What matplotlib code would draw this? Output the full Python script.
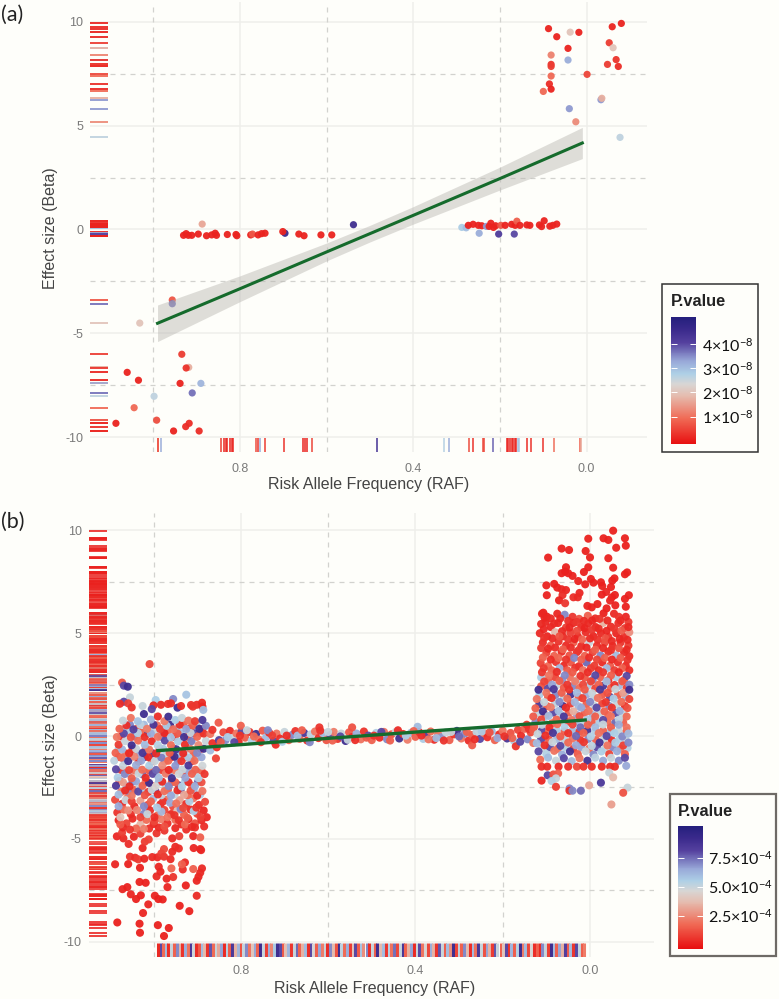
import matplotlib
matplotlib.use('Agg')
import matplotlib.pyplot as plt
from matplotlib.colors import LinearSegmentedColormap, Normalize
from matplotlib.cm import ScalarMappable
from matplotlib.patches import Rectangle

plt.rcParams['font.family'] = ['Liberation Sans', 'DejaVu Sans']
plt.rcParams['mathtext.default'] = 'regular'

W, H = 779, 999
BG = '#FEFEFA'

# panel (a): (raf, beta, p in 1e-8)
a_low_left = [(.956,-3.39,.7),(.956,-3.57,3.7),(1.031,-4.5,2),(.934,-6,.4),(1.06,-6.87,.1),(1.034,-7.25,.1),
              (.918,-6.63,1.7),(.924,-6.66,.3),(.938,-7.4,.1),(.89,-7.4,3.1),(.91,-7.86,3.7),(.998,-8.02,2.6),
              (1.044,-8.57,.9),(.992,-9.17,.6),(1.086,-9.32,.1),(.917,-9.32,.2),(.925,-9.48,.2),(.953,-9.69,.1),(.894,-9.69,.2)]
a_mid_left = [(.93,-.28,.1),(.924,-.2,.1),(.919,-.28,.1),(.911,-.28,.1),(.896,-.22,.1),(.877,-.3,.1),(.865,-.26,.1),
              (.857,-.18,.1),(.854,-.28,.1),(.829,-.24,.1),(.809,-.24,.1),(.807,-.3,.1),(.775,-.26,.1),(.771,-.22,.7),
              (.758,-.26,.1),(.75,-.2,.1),(.742,-.18,.1),(.696,-.18,4.6),(.701,-.1,.1),(.664,-.22,.1),(.652,-.3,.1),
              (.613,-.26,.1),(.588,-.26,.1),(.887,.26,1.6),(.538,.23,4.5)]
a_mid_right = [(.288,.1,2.8),(.278,.08,3),(.273,.2,.1),(.262,.25,.1),(.25,.2,.1),(.242,.18,.1),(.231,.15,3.4),(.225,.15,.1),
               (.221,.3,.1),(.215,.1,.1),(.21,.18,.1),(.198,.2,.7),(.188,.2,.1),(.173,.25,.1),(.165,.2,.1),(.161,.4,.8),
               (.154,.2,.1),(.138,.22,.1),(.131,.2,.1),(.109,.22,.1),(.104,.14,.1),(.098,.42,.1),(.085,.16,.1),(.078,.2,.1),
               (.069,.26,.1),(.248,-.18,3.2),(.203,-.22,4.2),(.167,-.22,4)]
a_top_right = [(.088,9.66,.1),(.069,9.27,.1),(.038,9.49,2),(.018,9.48,.1),(.043,8.71,.1),(.082,8.39,1.2),(.043,8.15,3.2),
               (.082,7.94,.3),(.082,7.84,.4),(.082,7.38,.9),(-.001,7.46,.5),(.086,7,.2),(.082,6.75,.1),(.1,6.64,.9),
               (.04,5.81,3.4),(.025,5.18,1.3),(-.033,6.24,3.4),(-.035,6.31,1.7),(-.077,4.43,2.6),(-.08,9.91,.1),
               (-.059,9.75,.1),(-.052,8.98,.4),(-.061,8.74,2),(-.068,8.17,.3),(-.048,7.94,.4),(-.073,7.84,.2)]
# rug along RAF axis: (raf, p)
a_rug_raf = [(.99,.1),(.988,.8),(.982,3.2),(.844,.4),(.837,.1),(.832,.1),(.83,.1),(.823,.1),(.819,.1),(.815,.1),(.763,.6),
             (.758,.3),(.754,3.2),(.742,.4),(.698,.3),(.654,.1),(.65,.1),(.646,.1),(.634,.5),(.484,4.4),(.328,2.7),(.318,3.2),
             (.272,.6),(.262,.3),(.238,.6),(.236,.5),(.217,3.8),(.184,.1),(.181,.1),(.177,.1),(.173,.1),(.169,.1),(.165,.1),
             (.163,.1),(.159,3),(.155,2.9),(.138,.2),(.128,.3),(.1,.3),(.076,1),(.015,.8),(.012,1.6)]
a_fit_raf = [.99, .8, .6, .5, .4, .2, .01]
a_fit_beta = [-4.51, -2.85, -1.08, -.2, .68, 2.45, 4.16]
a_fit_err = [.88, .62, .43, .4, .42, .55, .75]

# panel (b): (raf, beta, p in 1e-4)
b_left_tail = [(1.083,-9.07,.1),(1.032,-9.13,.1),(.99,-9.2,.1),(.965,-9.34,.1),(1.031,-9.57,.1),(.976,-9.73,.1),(1.024,-8.61,.2),
    (.918,-8.52,.1),(.94,-8.26,.1),(1.012,-8.19,.2),(1.052,-7.7,.2),(1.04,-7.93,.1),(1.029,-7.75,.1),(.997,-7.77,.2),(.989,-7.93,.1),
    (.979,-7.95,.1),(.901,-7.77,.3),(.968,-7.35,.2),(.926,-7.27,.1),(1.071,-7.45,.2),(1.06,-7.35,.1),(1.032,-7.1,.1),(1.018,-7.14,.1),
    (1.088,-6.24,.2),(1.058,-6.23,.1),(1.031,-6.41,.1),(.993,-6.83,.3),(.97,-6.94,.2),(.955,-6.86,.5),(.901,-7.04,.2),(.897,-6.85,.2),
    (.893,-6.65,.3),(.889,-6.44,.3),(.909,-6.47,1.5),(.933,-6.49,.4),(.928,-6.15,.3),(.935,-6.24,1.6),(.959,-6.44,1.7),(.984,-6.6,.2),
    (.988,-6.36,.2),(.961,-5.99,.3),(1.054,-5.87,.5),(1.042,-5.92,.4),(1.035,-6,.7),(1.021,-5.97,.2),(1.003,-5.89,.3),(.991,-5.9,.3),
    (.976,-5.87,.5),(.982,-5.71,.8),(.976,-5.5,1),(.957,-5.63,.3),(.95,-5.39,.3),(.942,-5.47,.4),(.908,-5.45,.2),(.893,-5.5,.2),
    (.891,-5.55,.2),(1.025,-5.45,.2),(1.084,-4.88,.2),(1.069,-4.98,.3),(1.057,-5.25,.4),(1.045,-4.9,.2),(1.02,-5.14,.7),(1.011,-5.03,.9),
    (.993,-4.73,.5),(.957,-4.98,.3),(.941,-4.87,.8),(.909,-4.87,.2),(.893,-4.93,1.5),(1.072,-4.7,.8),(1.03,-4.75,.8),(.975,-4.6,.6),(.925,-4.55,.4)]
b_left_low = [(1.088,-3.1,1),(1.072,-3.3,.3),(1.06,-3.02,2),(1.044,-3.42,.2),(1.03,-3.15,3),(1.013,-3.35,1),(1.001,-3.05,6),(.984,-3.32,.3),
    (.97,-3.1,2),(.955,-3.44,1),(.94,-3.12,3),(.925,-3.3,.4),(.909,-3.03,2),(.896,-3.35,.4),(.882,-3.2,1),
    (1.083,-3.72,.5),(1.068,-3.58,1.8),(1.052,-3.8,.4),(1.038,-3.6,2.4),(1.022,-3.78,7),(1.008,-3.62,.4),(.99,-3.85,1.8),(.975,-3.6,.9),
    (.96,-3.8,.3),(.945,-3.62,4),(.93,-3.83,1.6),(.915,-3.58,.3),(.9,-3.78,.9),(.885,-3.62,.2),
    (1.08,-4.1,.2),(1.062,-4.25,.9),(1.048,-4.02,.3),(1.03,-4.3,3.5),(1.016,-4.08,1.8),(1,-4.28,.3),(.982,-4.05,2.2),(.968,-4.25,.4),
    (.95,-4.08,1.8),(.936,-4.3,.3),(.92,-4.05,.2),(.905,-4.25,1.2),(.89,-4.1,.3),(.878,-3.95,.2),
    (1.07,-4.45,.3),(1.04,-4.5,1.7),(1.01,-4.5,.4),(.988,-4.45,.3),(.95,-4.48,.3),(.905,-4.45,.4)]
b_left_row1 = [(1.08,-2.85,6),(1.065,-2.65,.4),(1.05,-2.9,2.1),(1.035,-2.7,8),(1.02,-2.88,1.2),(1.004,-2.62,5),(.99,-2.84,.3),(.975,-2.68,1.9),
    (.96,-2.9,6.5),(.945,-2.64,.4),(.93,-2.86,3.2),(.915,-2.66,1.3),(.9,-2.9,.3),(.888,-2.68,2),
    (1.086,-2.42,8.5),(1.07,-2.25,3),(1.055,-2.45,.3),(1.04,-2.2,6.5),(1.025,-2.42,1.6),(1.01,-2.28,9),(.995,-2.45,4.6),(.98,-2.22,.3),
    (.965,-2.44,7),(.95,-2.25,1.7),(.935,-2.46,5.4),(.92,-2.24,.4),(.905,-2.44,6.4),(.89,-2.25,1.2),
    (1.082,-2.02,5.5),(1.066,-1.85,7),(1.05,-2.05,1.5),(1.034,-1.82,5),(1.018,-2.03,.3),(1.002,-1.84,8),(.988,-2.04,6),(.972,-1.83,2.2),
    (.958,-2.05,9),(.942,-1.85,4.8),(.927,-2.03,6.6),(.912,-1.84,1.6),(.897,-2.05,5.4),(.883,-1.85,.6),
    (1.086,-1.62,8),(1.07,-1.45,5),(1.056,-1.66,.9),(1.04,-1.42,6.4),(1.026,-1.64,1.8),(1.01,-1.44,5.5),(.994,-1.65,7.5),(.98,-1.43,2.6),
    (.965,-1.65,.3),(.95,-1.45,6.8),(.934,-1.64,5),(.92,-1.43,8.5),(.904,-1.64,1.6),(.888,-1.45,4.8),
    (1.09,-1.2,5.2),(1.074,-1.05,1.8),(1.058,-1.22,8.8),(1.044,-1,2.4),(1.028,-1.2,6.5),(1.012,-1.02,.3),(.997,-1.22,5),(.982,-1.05,7.2),
    (.966,-1.2,1.7),(.952,-1,9),(.936,-1.22,.5),(.92,-1.04,5.6),(.906,-1.2,1.9),(.89,-1.03,6.5)]
b_left_row2 = [(1.087,-.82,1.6),(1.072,-.65,6.2),(1.056,-.84,.3),(1.04,-.62,5),(1.025,-.82,8.6),(1.01,-.66,2),(.994,-.85,.4),(.978,-.62,5.6),
    (.963,-.82,1.4),(.948,-.64,8.8),(.932,-.84,.3),(.916,-.62,2.2),(.9,-.82,7),(.885,-.62,9),(.87,-.7,6),(.855,-.55,.4),
    (1.08,-.42,.7),(1.065,-.25,5),(1.05,-.45,9),(1.035,-.22,1.8),(1.02,-.42,6),(1.004,-.25,.3),(.99,-.44,5.4),(.974,-.22,8),
    (.96,-.44,1.9),(.944,-.26,5.5),(.928,-.42,.4),(.913,-.25,7.2),(.897,-.44,2.5),(.88,-.24,5),(.865,-.35,.4),(.85,-.2,8.2),
    (1.084,-.05,2.1),(1.068,.12,8),(1.052,-.06,1.2),(1.036,.15,5.4),(1.02,-.05,.4),(1.006,.12,6.4),(.99,-.04,2),(.975,.14,.2),
    (.96,-.06,5.8),(.945,.12,1.4),(.93,-.05,8.8),(.915,.15,5),(.9,-.04,1.7),(.885,.12,.5),(.87,.1,2),
    (1.078,.35,1.6),(1.062,.52,.4),(1.046,.32,8.2),(1.03,.55,5.2),(1.015,.35,2.2),(1,.55,8.6),(.985,.34,.8),(.97,.5,5.6),
    (.955,.33,1.9),(.94,.55,.4),(.925,.34,6.6),(.91,.52,1.5),(.895,.35,9),(.88,.5,7),(.865,.3,.5),
    (1.07,.75,5),(1.052,.88,2),(1.036,.72,5.8),(1.022,1.07,9),(1.006,.8,6.2),(.99,.95,.4),(.975,.72,2.2),(.966,.94,9),
    (.95,.78,5.6),(.935,.88,5),(.92,.75,2),(.905,.72,.7),(.888,.78,8.5),(.851,.65,1.4)]
b_left_top = [(1.009,3.5,1),(1.072,2.6,1.4),(1.068,2.45,8),(1.059,2.4,9),(.925,2.01,5.8),(1.054,1.88,5),(.955,1.8,7),(1.068,1.67,8),(.995,1.75,5.5),
    (1.077,1.57,.4),(1.058,1.59,.8),(1.05,1.39,.5),(1.025,1.46,5),(1,1.49,.3),(.983,1.52,.3),(.967,1.56,.4),(.96,1.59,.4),(.945,1.38,9),
    (.937,1.46,.3),(.914,1.51,.6),(.901,1.52,.4),(.889,1.62,.3),(.888,1.43,.2),(.91,1.43,.6),(1.004,1.31,8),(.886,1.27,6),(.857,-1.09,.9)]
b_left_fill = [(1.076,-4.3,1.4),(1.054,-4.55,.5),(1.022,-4.52,2.2),(.998,-4.15,1),(.975,-4.4,1.2),(.942,-4.1,.5),(.928,-4.3,1.8),(.912,-4.42,.3),(.884,-4.4,.4),
    (1.076,-3.95,4),(1.058,-3.62,2.6),(1.03,-3.95,.9),(1.014,-3.8,5),(.998,-3.95,.4),(.982,-3.68,6),(.968,-3.95,2),(.952,-3.85,.5),(.938,-3.55,7),(.922,-3.98,1.5),(.908,-3.65,5.5),(.892,-3.95,.8),
    (1.08,-3.42,6.5),(1.064,-3.12,5),(1.05,-3.18,.7),(1.022,-3.42,7),(1.006,-3.18,1.6),(.992,-3.48,5.6),(.978,-3.18,.6),(.962,-3.25,6.5),(.948,-3.28,2),(.932,-3.5,1),(.918,-3.18,5.5),(.902,-3.48,.5),
    (1.074,-2.72,2),(1.058,-2.68,7),(1.042,-2.62,1.6),(1.028,-2.62,5.5),(1.012,-2.72,.6),(.996,-2.65,8),(.982,-2.88,5.2),(.967,-2.62,1.5),(.952,-2.85,5),(.938,-2.62,8),(.922,-2.88,1.8),(.908,-2.62,6),(.893,-2.85,5.5),
    (1.078,-2.18,.8),(1.062,-2.42,6),(1.048,-2.22,7.5),(1.032,-2.44,5),(1.018,-2.22,2),(1.002,-2.45,.5),(.988,-2.25,6),(.972,-2.45,5.2),(.958,-2.24,1.2),(.942,-2.4,8),(.928,-2.22,5.6),(.912,-2.42,2),(.898,-2.22,7.5),
    (1.074,-1.65,.6),(1.058,-1.82,5.5),(1.043,-1.68,2),(1.026,-1.85,7.5),(1.01,-1.68,1.4),(.994,-1.84,5.2),(.98,-1.66,.7),(.965,-1.82,6),(.95,-1.68,2.2),(.934,-1.84,.5),(.92,-1.68,6.5),(.904,-1.84,5),(.89,-1.68,1.6),
    (1.08,-1.02,.7),(1.066,-1.22,6.5),(1.05,-1.02,5),(1.034,-1.24,.4),(1.02,-1.02,9),(1.004,-1.24,1.7),(.99,-1.02,5.8),(.974,-1.24,2.2),(.958,-1.02,.4),(.944,-1.22,7),(.928,-1.04,2),(.912,-1.22,.3),(.898,-1.02,5),
    (1.08,-.62,5.5),(1.064,-.84,1.8),(1.048,-.64,.7),(1.032,-.84,6.6),(1.018,-.62,2),(1.002,-.84,8.5),(.986,-.62,1.5),(.97,-.84,5),(.955,-.62,.5),(.94,-.84,6),(.924,-.62,5.5),(.908,-.84,1.6),(.892,-.62,.4),
    (1.074,-.02,.4),(1.058,.16,5.6),(1.044,-.02,7),(1.028,.16,1.6),(1.012,.14,8.8),(.998,.14,5),(.982,-.04,7),(.968,.16,1.8),(.952,-.04,.4),(.938,.14,6),(.922,-.04,1.4),(.908,.14,8),(.892,.14,.7),
    (1.07,.3,5.5),(1.054,.55,7),(1.038,.36,1.4),(1.022,.55,6),(1.008,.34,5),(.992,.52,2),(.978,.32,7),(.962,.55,9),(.948,.34,5.8),(.932,.55,1.6),(.918,.36,.5),(.902,.52,5.6),(.888,.34,1.5)]

b_mid = [(.84,.18,1),(.835,-.2,7),(.825,.25,.4),(.82,-.1,5),(.81,.12,2),(.805,-.28,.4),(.798,.22,8),(.79,-.08,1.5),(.78,.2,.5),(.775,-.22,5.5),
    (.765,.1,9),(.758,-.18,2),(.75,.26,1.4),(.742,-.06,6),(.735,.16,.3),(.725,-.24,8),(.718,.12,2),(.71,-.12,.4),(.7,.2,5),(.69,-.2,1.6),
    (.682,.06,7),(.675,.24,.5),(.665,-.14,1.8),(.655,.15,8.5),(.648,-.22,.4),(.64,.08,5.2),(.63,.22,2),(.622,-.1,.3),(.612,.14,6),(.604,-.2,1.3),
    (.595,.05,8),(.587,.2,2.2),(.578,-.14,.6),(.57,.12,5),(.56,-.24,9),(.552,.18,1.4),(.545,-.05,.4),(.535,.12,6.4),(.525,-.16,2),(.518,.22,.5),
    (.508,.02,8),(.5,-.2,1.6),(.49,.15,5.4),(.482,-.08,.3),(.472,.2,2),(.465,-.16,7),(.455,.08,1.2),(.445,.2,5),(.437,-.12,9),(.428,.1,.5),
    (.418,-.18,2.2),(.41,.16,6),(.4,-.04,1.5),(.392,.2,.4),(.382,-.14,5.6),(.375,.06,8.4),(.365,.22,1.8),(.357,-.18,.4),(.348,.1,2),(.34,-.06,6.8),
    (.33,.18,5),(.322,-.2,1.5),(.312,.08,.5),(.305,.25,9),(.295,-.12,2),(.287,.12,7),(.278,-.22,.4),(.27,.05,1.4),(.26,.2,5.2),(.252,-.14,8),
    (.243,.14,2.1),(.235,-.06,.4),(.225,.22,6),(.218,-.2,1.6),(.208,.08,.4),(.2,.26,2),(.19,-.12,8.6),(.182,.15,1.2),(.174,-.24,5.5),(.165,.3,.9),
    (.158,.02,.4),(.15,.35,1.6),(.143,-.16,7),(.136,.18,1),(.13,-.34,2),(.395,.45,6),(.545,.42,1.2),(.62,.42,.6),(.72,-.42,.4),(.8,.5,1.6),(.27,-.45,1.4),(.17,-.5,.5)]
b_mid_fill = [(.846,-.3,1.5),(.83,-.05,5.6),(.815,-.3,8),(.802,.02,.5),(.786,.28,5),(.77,-.02,1.8),(.754,-.3,.5),(.738,.28,7),(.728,.02,.8),(.705,-.28,5.5),(.695,.02,.4),(.67,.02,6),(.66,.28,1.5),
    (.642,-.3,7),(.618,.26,.5),(.6,.2,5),(.59,-.22,1.6),(.572,-.02,8),(.555,-.18,5),(.538,-.2,.4),(.512,-.08,1.4),(.495,.02,.5),(.478,.2,8),(.458,-.22,1.5),(.44,.28,.4),(.422,.02,5.5),(.404,.24,1.6),
    (.386,.02,.4),(.37,-.16,2),(.352,-.1,6),(.335,-.22,.5),(.318,.2,5),(.3,-.02,7.5),(.282,.2,1.6),(.264,-.16,.4),(.248,.22,5.6),(.23,.18,1.2),(.212,-.1,6.5),(.196,-.02,.5),(.178,-.1,1.6),(.16,-.28,8),(.14,.34,.6)]

b_right_top = [(-.053,9.99,.1),(.004,9.6,.1),(-.031,9.62,.1),(-.042,9.54,.1),(-.08,9.62,.1),(-.082,9.26,.1),(-.06,9.16,.1),(.065,9.12,.1),
    (.048,9.05,.1),(.01,9,.1),(0,8.69,.1),(.096,8.68,.1),(-.042,8.65,.1),(.055,8.21,.1),(.004,8.21,.1),(-.053,8.19,.1),(.014,7.98,.1),
    (.065,7.92,.1),(.057,8,.1),(.05,7.92,.1),(.04,7.79,.1),(-.085,7.96,.1),(-.08,7.87,.1),(.027,7.54,.1),(-.056,7.67,.1),(-.051,7.56,.1),
    (-.002,7.64,.1),(-.008,7.46,.1),(.011,7.38,.1),(-.025,7.48,.1),(.1,7.33,.1),(.082,7.4,.1),(-.028,7.3,.1),(-.048,7.25,.1),(.075,7.22,.1),
    (.065,7.14,.2),(.055,7.1,.2),(-.037,7.01,.2),(-.027,6.88,.1),(.024,6.96,.2),(.099,6.85,.1),(.063,6.86,.4),(-.057,6.86,.1),(-.05,6.75,.1),
    (-.089,6.85,.1),(-.08,6.67,.1),(.071,6.6,.1),(.038,6.75,.4),(.028,6.75,.3),(.057,6.46,.6),(-.046,6.59,.2),(-.017,6.42,.1),(.006,6.33,.1),
    (-.004,6.26,.1),(-.058,6.36,.1),(-.038,6.21,.1),(-.082,6.29,.1),(-.031,5.97,.1),(.107,6,.1),(.099,5.81,.1)]
b_right_upper = [(.11,5.95,.2),(.102,5.55,.2),(.075,5.95,.2),(.058,5.9,7),(.04,5.8,.6),(.025,5.7,1.2),(.005,5.85,1.6),(-.012,5.72,.4),(-.055,5.95,.3),(-.066,5.8,.5),(-.088,5.55,.7),
    (.112,5.45,.3),(.09,5.3,.2),(.073,5.5,.3),(.055,5.28,.7),(.038,5.5,.2),(.02,5.3,.3),(.004,5.48,.3),(-.013,5.3,.2),(-.03,5.5,3.4),(-.048,5.32,.4),(-.065,5.5,.4),(-.08,5.25,.7),
    (.115,5,.3),(.098,4.85,.2),(.08,5.05,3.6),(.062,4.85,.3),(.045,5.02,.8),(.028,4.85,.3),(.01,5.05,.4),(-.008,4.85,.2),(-.025,5,.3),(-.042,4.82,.5),(-.06,5,.2),(-.078,4.82,.3),(-.09,5.05,2.6),
    (.108,4.55,.4),(.09,4.4,1.5),(.072,4.6,.5),(.055,4.4,.3),(.038,4.55,1.5),(.02,4.38,.3),(.002,4.55,5),(-.016,4.4,.4),(-.034,4.55,1),(-.052,4.38,.3),(-.07,4.55,.5),(-.088,4.4,.7),
    (.1,4.05,.9),(.082,3.9,1.6),(.065,4.1,.3),(.047,3.92,1.2),(.03,4.08,.4),(.012,3.9,1.6),(-.006,4.08,.9),(-.024,3.92,7),(-.042,4.1,.4),(-.06,3.92,6),(-.078,4.08,.3),(-.09,3.88,.3),
    (.113,3.55,.9),(.096,3.4,1.7),(.078,3.6,.6),(.06,3.42,.3),(.044,3.58,1.3),(.025,3.4,.4),(.008,3.58,7.5),(-.01,3.42,.7),(-.028,3.58,.3),(-.046,3.42,1.4),(-.064,3.58,.4),(-.082,3.42,.3)]
b_right_mid = [(.11,3.1,.6),(.094,2.95,2),(.076,3.12,.4),(.058,2.95,7),(.04,3.1,1.4),(.022,2.92,.5),(.005,3.1,.4),(-.012,2.95,8),(-.03,3.1,.6),(-.048,2.95,1.5),(-.066,3.1,.3),(-.084,2.92,8),
    (.105,2.65,.9),(.087,2.5,6.6),(.07,2.68,1.5),(.052,2.5,.6),(.034,2.66,2.2),(.016,2.5,1),(-.002,2.66,.9),(-.02,2.5,1.6),(-.038,2.66,6),(-.056,2.48,.5),(-.074,2.66,1.3),(-.09,2.5,7),
    (.118,2.25,9),(.1,2.1,2),(.083,2.28,8.5),(.065,2.1,1.5),(.048,2.26,.5),(.03,2.1,6),(.012,2.26,1.4),(-.005,2.08,5),(-.023,2.26,8.5),(-.04,2.1,1.2),(-.058,2.28,5),(-.076,2.1,3),(-.09,2.25,9),
    (.122,1.8,2),(.105,1.65,5),(.088,1.85,.5),(.07,1.66,7),(.052,1.82,1.8),(.035,1.65,6.2),(.017,1.84,.9),(0,1.66,7),(-.018,1.85,2),(-.036,1.65,.5),(-.054,1.82,5.6),(-.072,1.66,1.8),(-.09,1.8,.9),
    (.125,1.35,1.6),(.108,1.2,9),(.09,1.4,2.2),(.072,1.22,6),(.055,1.38,.4),(.038,1.2,3.4),(.02,1.38,6.5),(.003,1.22,2),(-.015,1.38,8),(-.033,1.2,1.6),(-.05,1.38,.5),(-.068,1.22,6.4),(-.086,1.36,1.2),
    (.13,.95,1.4),(.112,.8,1),(.095,.98,6),(.077,.8,1.6),(.06,.95,8.5),(.042,.78,2),(.024,.96,1.2),(.006,.8,5.6),(-.012,.95,1.5),(-.03,.78,8),(-.048,.96,2),(-.066,.8,5.2),(-.084,.95,1.8)]
b_right_low = [(.145,.55,.5),(.128,.45,1.5),(.11,.55,5),(.093,.42,.4),(.075,.58,1.8),(.058,.42,5.5),(.04,.56,.9),(.022,.42,7.5),(.005,.55,1.6),(-.012,.42,6),(-.03,.56,5),(-.048,.42,1.5),(-.066,.55,6.4),(-.084,.42,2),
    (.12,.1,5),(.102,.02,.4),(.085,.15,8.6),(.068,-.02,1.4),(.05,.14,.5),(.032,0,7.5),(.015,.15,1.6),(-.002,-.02,5.4),(-.02,.14,2),(-.038,0,8),(-.056,.14,5.5),(-.074,-.02,7),(-.088,.12,6),
    (.122,-.35,6),(.104,-.45,.4),(.086,-.3,5),(.068,-.48,8),(.05,-.32,1.8),(.032,-.45,6.5),(.014,-.3,.6),(-.004,-.48,5.2),(-.022,-.32,8.8),(-.04,-.46,2),(-.058,-.32,5.6),(-.076,-.46,.8),(-.088,-.32,7),
    (.118,-.75,8),(.1,-.88,5.4),(.082,-.72,2),(.064,-.9,6.4),(.046,-.75,8.8),(.028,-.88,1.4),(.01,-.74,5),(-.008,-.9,7),(-.026,-.75,5.5),(-.044,-.88,.9),(-.062,-.74,6.4),(-.08,-.88,1.5),
    (.114,-1.15,1.8),(.096,-1.05,6),(.078,-1.2,5),(.06,-1.08,8),(.042,-1.22,6),(.024,-1.08,2),(.006,-1.2,8.8),(-.012,-1.05,5.2),(-.03,-1.2,6.5),(-.048,-1.06,5),(-.066,-1.2,7),(-.08,-1.06,8),
    (.111,-1.49,.4),(.098,-1.49,.3),(.072,-1.49,.3),(.05,-1.49,.4),(.03,-1.49,1),(.015,-1.49,.5),(-.004,-1.49,.4),(-.027,-1.49,.3),(-.046,-1.49,.3),(-.057,-1.49,.3),(-.083,-1.45,6.5),
    (.111,-2.17,.2),(.097,-1.91,8),(.084,-1.87,1.2),(.073,-1.82,1.5),(.078,-2.06,5),(.088,-2.19,5.4),(.078,-2.47,.7),(.047,-2.55,7),(.047,-2.66,.5),(.04,-2.66,7),(.021,-2.66,7.5),
    (.002,-2.4,3.2),(-.025,-2.27,8.5),(-.044,-1.78,5),(-.053,-2.01,3.6),(-.086,-2.51,5),(-.076,-2.76,1.2),(-.049,-3.33,3)]
b_right_fill = [(.104,5.75,.2),(.09,5.72,.3),(.068,5.72,.2),(.05,5.6,.4),(.03,5.55,.6),(.014,5.6,.3),(-.005,5.62,.2),(-.022,5.7,.5),(-.04,5.62,.3),(-.07,5.62,.3),(-.082,5.8,.2),
    (.106,5.2,.2),(.082,5.48,.3),(.064,5.1,.3),(.047,5.28,.2),(.03,5.12,1),(.012,5.25,.2),(-.004,5.15,.6),(-.02,5.22,.3),(-.038,5.12,.2),(-.056,5.22,.6),(-.072,5.12,1.4),(-.088,5.3,.3),
    (.105,4.78,.5),(.086,4.75,.3),(.07,4.85,1.2),(.05,4.7,.6),(.035,4.72,.2),(.018,4.7,1.6),(0,4.75,.3),(-.018,4.68,.5),(-.035,4.75,1.2),(-.05,4.62,.3),(-.068,4.72,.2),(-.086,4.68,.3),
    (.112,4.28,.7),(.096,4.25,.3),(.08,4.3,.4),(.062,4.22,1.6),(.044,4.3,.4),(.026,4.18,.6),(.008,4.3,.2),(-.012,4.2,1.5),(-.03,4.28,.3),(-.048,4.18,.5),(-.066,4.28,1.2),(-.084,4.2,.3),
    (.108,3.82,1.6),(.09,3.72,.4),(.072,3.8,1.7),(.055,3.72,.5),(.036,3.8,7),(.02,3.72,1.5),(.002,3.82,.4),(-.016,3.72,.9),(-.034,3.8,1.6),(-.05,3.72,.3),(-.07,3.8,1.4),(-.086,3.7,.5),
    (.106,3.3,.7),(.088,3.2,1.6),(.07,3.3,6.2),(.052,3.2,1.4),(.034,3.32,.5),(.016,3.2,2),(-.002,3.3,.7),(-.02,3.2,.4),(-.038,3.3,6),(-.056,3.2,.8),(-.074,3.3,1.6),(-.09,3.2,.4),
    (.112,2.85,5.6),(.096,2.7,1.4),(.08,2.86,.9),(.064,2.72,6.8),(.046,2.86,2),(.03,2.72,5),(.012,2.84,1.3),(-.006,2.72,7),(-.024,2.86,1.6),(-.042,2.72,.4),(-.06,2.86,5.5),(-.078,2.72,1.6),
    (.112,2.42,1.3),(.096,2.32,8),(.078,2.44,5),(.06,2.35,1.4),(.04,2.42,7),(.024,2.34,1.8),(.006,2.44,5.6),(-.012,2.32,.9),(-.03,2.44,8.5),(-.048,2.34,1.6),(-.066,2.44,6),(-.084,2.34,.7),
    (.116,2,5.6),(.096,1.9,1.4),(.079,2,7),(.06,1.88,5.2),(.044,2.02,8.8),(.026,1.9,1.6),(.008,2.02,6.4),(-.01,1.88,5.2),(-.028,2,1.4),(-.046,1.9,8),(-.064,2,1.5),(-.082,1.9,6),
    (.116,1.55,8.6),(.098,1.45,1.5),(.08,1.58,5.2),(.062,1.46,9),(.044,1.58,.8),(.026,1.44,6),(.008,1.56,1.6),(-.01,1.46,5),(-.028,1.58,.9),(-.044,1.46,7),(-.062,1.56,5),(-.08,1.46,.4),
    (.12,1.12,5),(.102,1.02,1.6),(.084,1.14,8),(.066,1.02,5.2),(.048,1.14,1.5),(.03,1.02,6.6),(.012,1.14,1.6),(-.006,1.02,6),(-.024,1.14,5),(-.042,1.02,1.8),(-.06,1.12,8),(-.078,1.02,5),
    (.125,.68,7),(.106,.7,5.4),(.087,.62,1.8),(.068,.72,5),(.05,.7,.8),(.032,.7,6),(.014,.62,5.2),(-.004,.66,1.4),(-.022,.64,5.6),(-.04,.68,1.8),(-.058,.66,7.5),(-.076,.66,1.6),
    (.13,.26,1.4),(.11,.28,8),(.094,.24,1.8),(.076,.28,5.6),(.058,.22,1.5),(.04,.26,6),(.024,.22,.6),(.006,.26,8.8),(-.012,.24,5.4),(-.03,.26,1.6),(-.048,.22,6),(-.066,.26,5),(-.084,.24,1.6),
    (.112,-.16,8),(.094,-.18,1.4),(.076,-.14,6),(.058,-.2,5.2),(.04,-.12,2),(.022,-.2,.5),(.004,-.14,7),(-.014,-.2,1.6),(-.032,-.14,5),(-.05,-.2,.4),(-.068,-.14,5.4),(-.082,-.2,5),
    (.11,-.6,5),(.092,-.55,8),(.074,-.62,1.8),(.056,-.55,5.4),(.038,-.62,.8),(.02,-.55,6.6),(.002,-.62,1.8),(-.016,-.55,8),(-.034,-.62,5),(-.052,-.55,7),(-.07,-.62,2),(-.086,-.58,5.4)]

b_rug_raf = [(.99,.3),(.984,8),(.978,1.8),(.972,6),(.966,.4),(.96,5),(.953,1.6),(.947,7),(.94,3.4),(.934,.5),(.928,6.4),(.922,2),(.915,8.5),(.909,4.8),
    (.903,.4),(.896,1.4),(.89,6),(.884,3.6),(.877,.5),(.871,7.8),(.864,1.8),(.858,5),(.852,3.2),(.845,6.6),(.839,.3),(.832,5.4),(.826,1.5),(.82,8.5),
    (.813,3.4),(.807,6.2),(.8,1.2),(.794,5),(.788,7),(.781,2),(.775,4),(.768,6.5),(.762,1.6),(.756,9),(.749,5),(.743,.8),(.736,6.4),(.73,2.4),(.724,5.6),
    (.717,9),(.711,8),(.704,1.4),(.698,3.8),(.692,6.2),(.685,.6),(.679,5),(.672,7.5),(.666,1.6),(.66,3.4),(.653,6),(.647,.4),(.64,8),(.634,4.6),(.628,1.5),
    (.621,6.6),(.615,2.2),(.608,5),(.602,.4),(.596,7),(.589,3.6),(.583,1.2),(.576,9),(.57,5.2),(.564,1.8),(.557,6.4),(.551,.7),(.544,4),(.538,8),(.532,1.4),
    (.525,5.8),(.519,2.6),(.512,7),(.506,.4),(.5,5),(.493,1.5),(.487,9),(.48,3.6),(.474,6),(.468,.6),(.461,5.4),(.455,2),(.448,7.4),(.442,1),(.436,5),
    (.429,8.6),(.423,1.6),(.416,3.4),(.41,6.6),(.404,.3),(.397,5),(.391,8),(.384,2),(.378,4.6),(.372,1),(.365,6.4),(.359,3.4),(.352,.5),(.346,7.8),(.34,5),
    (.333,1.5),(.327,6),(.32,2.6),(.314,9),(.308,.9),(.301,5.2),(.295,1.6),(.288,7),(.282,3.6),(.276,.4),(.269,6),(.263,2),(.256,8.6),(.25,5),(.244,1.2),
    (.237,6.6),(.231,3.4),(.224,.7),(.218,7.8),(.212,5),(.205,1.6),(.199,4),(.192,8),(.186,.5),(.18,6.2),(.173,1.5),(.167,5.4),(.16,9),(.154,2.2),(.148,6),
    (.141,1),(.135,4.6),(.128,.4),(.122,1.6),(.115,.3),(.109,7),(.103,5),(.096,.8),(.09,9),(.083,6),(.077,1.6),(.071,6.6),(.064,3.4),(.058,8.2),(.051,1.4),
    (.045,6),(.039,.6),(.032,8),(.026,5),(.019,1.5),(.013,2.2)]
b_fit_raf = [.99, .5, .011]
b_fit_beta = [-.71, .04, .78]

x_ticks = [0.8, 0.4, 0.0]
x_minor = [1.0, 0.6, 0.2]
y_ticks = [-10, -5, 0, 5, 10]
y_minor = [-7.5, -2.5, 2.5, 7.5]

cmap = LinearSegmentedColormap.from_list('pv', [(0, '#E80F10'), (.2, '#F06A55'), (.38, '#E5BDB0'), (.47, '#D8D6D4'), (.55, '#AED0E6'),
                                                (.65, '#98A8D8'), (.8, '#54409E'), (.9, '#3A2A8C'), (1, '#241F7C')])


def box(l, r, t, b):
    return [l / W, 1 - b / H, (r - l) / W, (b - t) / H]


def panel(rect, xlim, ylim, xpad):
    ax = fig.add_axes(box(*rect), facecolor='none')
    ax.set_xlim(xlim)
    ax.set_ylim(ylim)
    for s in ax.spines.values():
        s.set_visible(False)
    ax.set_xticks(x_ticks)
    ax.set_xticklabels(['0.8', '0.4', '0.0'])
    ax.set_yticks(y_ticks)
    ax.set_yticklabels(['-10', '-5', '0', '5', '10'])
    ax.tick_params(length=0, labelsize=9, labelcolor='#7a7a7a', pad=5)
    ax.tick_params(axis='x', pad=xpad)
    for v in x_ticks:
        ax.axvline(v, color='#EFEFEB', lw=1.1, zorder=0)
    for v in y_ticks:
        ax.axhline(v, color='#EFEFEB', lw=1.1, zorder=0)
    for v in x_minor:
        ax.axvline(v, color='#D2D2CE', lw=.9, ls=(0, (4, 4)), zorder=0)
    for v in y_minor:
        ax.axhline(v, color='#D2D2CE', lw=.9, ls=(0, (4, 4)), zorder=0)
    return ax


def legend(frame, bar, vmin, vmax, ticks, labels, edge, lw, tx, pad):
    fig.add_artist(Rectangle((frame[0] / W, 1 - frame[3] / H), (frame[1] - frame[0]) / W, (frame[3] - frame[2]) / H,
                             transform=fig.transFigure, fill=False, ec=edge, lw=lw))
    fig.text(tx / W, 1 - (frame[2] + 18) / H, 'P.value', fontsize=11.8, fontweight='bold', color='#222222', va='center')
    cax = fig.add_axes(box(*bar))
    cb = fig.colorbar(ScalarMappable(Normalize(vmin, vmax), cmap), cax=cax)
    cb.outline.set_visible(False)
    cb.set_ticks(ticks)
    cb.set_ticklabels(labels)
    cax.tick_params(direction='in', color='#FFFFFF', length=4, width=.7, left=True, right=True, labelsize=11.5, pad=pad, labelcolor='#111111')
    for t in cax.get_yticklabels():
        t.set_family(['Lato', 'DejaVu Sans'])


def rugs(ax, raf, pv, beta, beta_p, norm, lw_x, lw_y):
    ax.vlines(raf, 0, .032, transform=ax.get_xaxis_transform(), colors=cmap(norm(pv)), lw=lw_x, zorder=2)
    ax.hlines(beta, 0, .032, transform=ax.get_yaxis_transform(), colors=cmap(norm(beta_p)), lw=lw_y, zorder=2)


fig = plt.figure(figsize=(W / 100, H / 100), dpi=100, facecolor=BG)

# (a)
ax1 = panel((90, 647, 2, 452), (1.1458, -.1392), (-10.7, 10.94), 8)
norm1 = Normalize(-.13, 5.13)
pts1 = a_low_left + a_mid_left + a_mid_right + a_top_right
x1, y1, p1 = zip(*pts1)
rx1, rp1 = zip(*a_rug_raf)
ax1.scatter(x1, y1, c=p1, cmap=cmap, norm=norm1, s=27, lw=0, alpha=.95, zorder=3)
lo = [b - e for b, e in zip(a_fit_beta, a_fit_err)]
hi = [b + e for b, e in zip(a_fit_beta, a_fit_err)]
ax1.fill_between(a_fit_raf, lo, hi, color='#B8B6B0', alpha=.45, lw=0, zorder=4)
ax1.plot(a_fit_raf, a_fit_beta, color='#156B2C', lw=2.2, zorder=5)
rugs(ax1, rx1, rp1, y1, p1, norm1, 1.1, 1.3)

# (b)
ax2 = panel((88.7, 654, 513, 957), (1.1485, -.1466), (-10.75, 10.85), 6)
norm2 = Normalize(-.34, 10.26)
pts2 = (b_left_tail + b_left_low + b_left_fill + b_left_row1 + b_left_row2 + b_left_top + b_mid + b_mid_fill
        + b_right_top + b_right_upper + b_right_fill + b_right_mid + b_right_low)
x2, y2, p2 = zip(*pts2)
rx2, rp2 = zip(*b_rug_raf)
ax2.scatter(x2, y2, c=p2, cmap=cmap, norm=norm2, s=34, lw=0, alpha=.95, zorder=3)
ax2.plot(b_fit_raf, b_fit_beta, color='#156B2C', lw=2.4, zorder=5)
rugs(ax2, rx2, rp2, y2, p2, norm2, 2.2, 1.2)

legend((662.3, 757.7, 283.7, 452.3), (670.7, 696.3, 316.7, 444), -.13, 5.13, [1, 2, 3, 4],
       ['1×10$^{-8}$', '2×10$^{-8}$', '3×10$^{-8}$', '4×10$^{-8}$'], '#333333', 1.1, 671, 4)
legend((670, 776, 793.7, 956), (678, 702.7, 825.7, 948.7), -.34, 10.26, [2.5, 5, 7.5],
       ['2.5×10$^{-4}$', '5.0×10$^{-4}$', '7.5×10$^{-4}$'], '#6E6A66', 1.6, 678, 3.5)

for yp in (228, 735):
    fig.text(50 / W, 1 - yp / H, 'Effect size (Beta)', rotation=90, fontsize=11.5, color='#444444', ha='center', va='center')
fig.text(369 / W, 1 - 485 / H, 'Risk Allele Frequency (RAF)', fontsize=11.5, color='#444444', ha='center', va='center')
fig.text(375 / W, 1 - 988 / H, 'Risk Allele Frequency (RAF)', fontsize=11.5, color='#444444', ha='center', va='center')
for lab, yp in (('(a)', 15), ('(b)', 522)):
    fig.text(1 / W, 1 - yp / H, lab, fontsize=15.5, color='#222222', family=['Lato', 'DejaVu Sans'], va='center')

fig.savefig('out.png', dpi=100, facecolor=BG)
